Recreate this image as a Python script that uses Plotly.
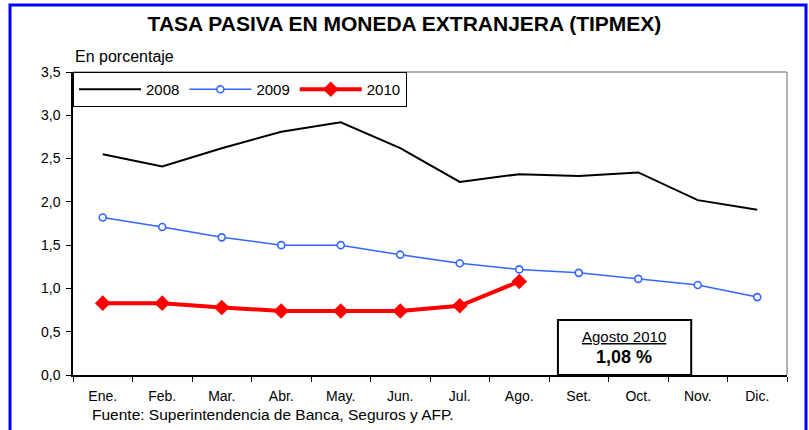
import plotly.graph_objects as go

months = ["Ene.", "Feb.", "Mar.", "Abr.", "May.", "Jun.", "Jul.", "Ago.", "Set.", "Oct.", "Nov.", "Dic."]
s2008 = [2.55, 2.41, 2.62, 2.81, 2.92, 2.62, 2.23, 2.32, 2.30, 2.34, 2.02, 1.91]
s2009 = [1.82, 1.71, 1.59, 1.50, 1.50, 1.39, 1.29, 1.22, 1.18, 1.11, 1.04, 0.90]
s2010 = [0.83, 0.83, 0.78, 0.74, 0.74, 0.74, 0.80, 1.08]
yticks = [0, 0.5, 1.0, 1.5, 2.0, 2.5, 3.0, 3.5]
ytick_labels = ["0,0", "0,5", "1,0", "1,5", "2,0", "2,5", "3,0", "3,5"]

FONT = "Arial, Liberation Sans, sans-serif"

fig = go.Figure()
fig.add_trace(go.Scatter(x=months, y=s2008, name="2008", mode="lines",
                         line=dict(color="black", width=2)))
fig.add_trace(go.Scatter(x=months, y=s2009, name="2009", mode="lines+markers",
                         line=dict(color="#3366FF", width=1.5),
                         marker=dict(symbol="circle", size=7, color="white",
                                     line=dict(color="#3366FF", width=1.6))))
fig.add_trace(go.Scatter(x=months[:len(s2010)], y=s2010, name="2010", mode="lines+markers",
                         line=dict(color="#FF0000", width=4),
                         marker=dict(symbol="diamond", size=12, color="#FF0000")))

fig.update_layout(
    width=809, height=430,
    margin=dict(l=73, r=22, t=72, b=55),
    paper_bgcolor="white", plot_bgcolor="white",
    font=dict(family=FONT, size=14, color="black"),
    showlegend=True,
    legend=dict(orientation="h", x=0, y=1, xanchor="left", yanchor="top",
                bordercolor="black", borderwidth=1, bgcolor="white",
                font=dict(size=15, family=FONT), itemwidth=62,
                tracegroupgap=0),
    title=dict(text="<b>TASA PASIVA EN MONEDA EXTRANJERA (TIPMEX)</b>",
               x=0.5, xref="container", xanchor="center", y=0.945, yanchor="middle",
               font=dict(size=21, family=FONT, color="black")),
    xaxis=dict(type="category", tickson="boundaries", ticks="outside", ticklen=5,
               tickcolor="black", showline=True, linecolor="black", linewidth=1.5,
               showgrid=False, zeroline=False, tickfont=dict(size=14),
               ticklabelstandoff=7, range=[-0.5, 11.5], fixedrange=True),
    yaxis=dict(range=[0, 3.5], tickvals=yticks, ticktext=ytick_labels,
               ticks="outside", ticklen=5, tickcolor="black", showline=True,
               linecolor="black", linewidth=1.5, showgrid=False, zeroline=False,
               tickfont=dict(size=14), ticklabelstandoff=3, fixedrange=True),
)

shapes = [
    # outer blue frame
    dict(type="rect", xref="paper", yref="paper", x0=-0.0882, x1=1.0266, y0=-0.3, y1=1.221,
         line=dict(color="#0000FF", width=3), layer="below"),
    # top and right gray plot border
    dict(type="line", xref="paper", yref="paper", x0=0, x1=1, y0=1, y1=1,
         line=dict(color="#999999", width=1.5), layer="below"),
    dict(type="line", xref="paper", yref="paper", x0=1, x1=1, y0=0, y1=1,
         line=dict(color="#999999", width=1.5), layer="below"),
    # annotation box
    dict(type="rect", xref="x", yref="y", x0=7.65, x1=9.89, y0=0, y1=0.635,
         line=dict(color="black", width=2), fillcolor="white", layer="above"),
]
fig.update_layout(shapes=shapes)

fig.add_annotation(text="En porcentaje", xref="paper", yref="paper", x=0, y=1.05,
                   xanchor="left", yanchor="middle", showarrow=False,
                   font=dict(size=16, family=FONT))
fig.add_annotation(text="Fuente: Superintendencia de Banca, Seguros y AFP.", xref="paper",
                   yref="paper", x=0.024, y=-0.132, xanchor="left", yanchor="middle",
                   showarrow=False, font=dict(size=15.5, family=FONT))
fig.add_annotation(text="<u>Agosto 2010</u>", xref="x", yref="y", x=8.76, y=0.44,
                   showarrow=False, font=dict(size=15, family=FONT))
fig.add_annotation(text="<b>1,08 %</b>", xref="x", yref="y", x=8.76, y=0.21,
                   showarrow=False, font=dict(size=18, family=FONT))

fig.write_html("out.html", config={"displayModeBar": False},
               post_script="document.body.style.margin='0';")
